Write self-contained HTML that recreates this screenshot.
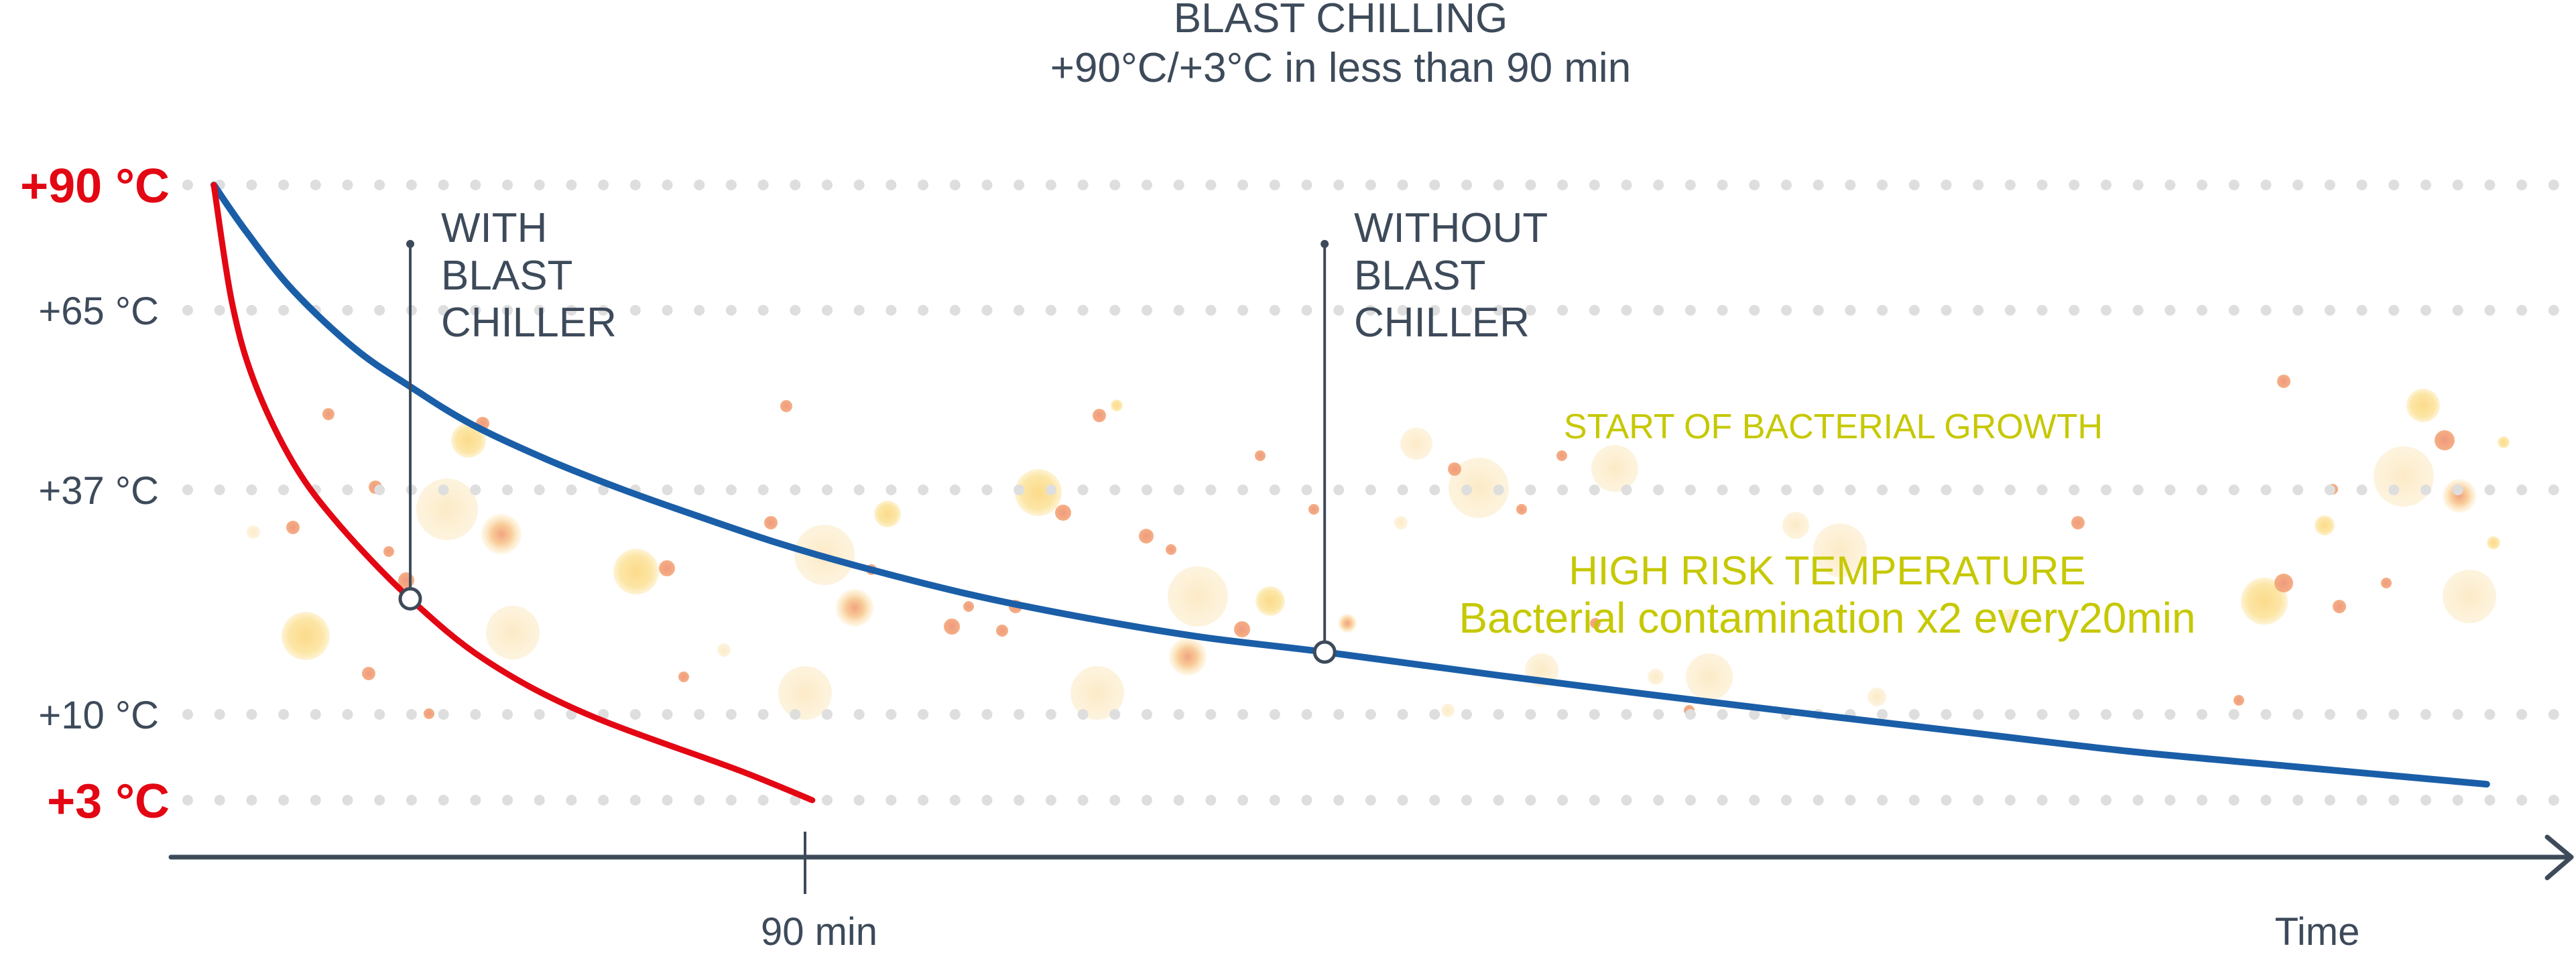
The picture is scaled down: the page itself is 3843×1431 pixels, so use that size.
<!DOCTYPE html>
<html><head><meta charset="utf-8">
<style>
html,body{margin:0;padding:0;background:#fff;}
svg{display:block;}
text{font-family:"Liberation Sans",sans-serif;}
</style></head>
<body>
<svg id="chart" width="3843" height="1431" viewBox="0 0 3843 1431" xmlns="http://www.w3.org/2000/svg">
<defs>
<radialGradient id="gY"><stop offset="0" stop-color="#fbd77e"/><stop offset="0.7" stop-color="#fce39c"/><stop offset="1" stop-color="#fde9b0" stop-opacity="0.6"/></radialGradient>
<radialGradient id="gP"><stop offset="0" stop-color="#fbe3b3"/><stop offset="1" stop-color="#fcecc9" stop-opacity="0.8"/></radialGradient>
<radialGradient id="gO"><stop offset="0" stop-color="#ee8f6e"/><stop offset="1" stop-color="#f3a678"/></radialGradient>
<radialGradient id="gG"><stop offset="0" stop-color="#f09a72"/><stop offset="0.5" stop-color="#f8c890"/><stop offset="1" stop-color="#fde5b0" stop-opacity="0.3"/></radialGradient>
</defs>
<g id="blobs"></g>
<g id="grid"></g>
<g id="ylabels"></g>
<text x="2000" y="48" text-anchor="middle" font-size="62" fill="#3d4a5a">BLAST CHILLING</text>
<text x="2000" y="122" text-anchor="middle" font-size="62" fill="#3d4a5a">+90°C/+3°C in less than 90 min</text>
<g>
<line x1="255" y1="1279" x2="3834" y2="1279" stroke="#3d4a5a" stroke-width="7" stroke-linecap="round"/>
<polyline points="3800,1249 3836,1279 3800,1310" fill="none" stroke="#3d4a5a" stroke-width="7" stroke-linecap="round" stroke-linejoin="round"/>
<line x1="1201" y1="1241" x2="1201" y2="1334" stroke="#3d4a5a" stroke-width="4"/>
<text x="1222" y="1410" text-anchor="middle" font-size="58" fill="#3d4a5a">90 min</text>
<text x="3457" y="1410" text-anchor="middle" font-size="58" fill="#3d4a5a">Time</text>
</g>
<g id="series"></g>
<g>
<text x="658" y="361" font-size="62" fill="#3d4a5a">WITH</text>
<text x="658" y="432" font-size="62" fill="#3d4a5a">BLAST</text>
<text x="658" y="502" font-size="62" fill="#3d4a5a">CHILLER</text>
</g>
<g>
<text x="2020" y="361" font-size="62" fill="#3d4a5a">WITHOUT</text>
<text x="2020" y="432" font-size="62" fill="#3d4a5a">BLAST</text>
<text x="2020" y="502" font-size="62" fill="#3d4a5a">CHILLER</text>
</g>
<text x="2735" y="654" text-anchor="middle" font-size="52" fill="#c6c800">START OF BACTERIAL GROWTH</text>
<text x="2726" y="872" text-anchor="middle" font-size="60" fill="#c6c800">HIGH RISK TEMPERATURE</text>
<text x="2726" y="944" text-anchor="middle" font-size="64" fill="#c6c800">Bacterial contamination x2 every20min</text>
</svg>
<script>
// ---- chart data ----
const yTicks = [90, 65, 37, 10, 3];
const yTickLabels = ['+90 °C', '+65 °C', '+37 °C', '+10 °C', '+3 °C'];
const redTimes = [0, 2.76, 6.22, 12.14, 19.18, 29.9, 41.4, 56.6, 80.1, 91.1];
const redTemps = [90, 66.6, 53.7, 41.1, 32.7, 23.9, 16.5, 10.1, 5.4, 3];
const blueTimes = [0, 5.1, 12.1, 21.5, 29.9, 39.1, 50.8, 62.4, 74.2, 85.9, 97.7, 115.2, 132.8, 150.3, 169.1, 195.5, 219.5, 243.5, 267.4, 291.4, 315.4, 346.0];
const blueTemps = [90, 80.4, 68.9, 59.0, 53.1, 47.3, 41.7, 37, 33.7, 30.6, 27.9, 24.4, 21.6, 19.3, 17.5, 14.7, 12.3, 10, 8.5, 7.0, 5.8, 4.3];
const redMarkerIndex = 5;
const blueMarkerIndex = 14;

// ---- scales ----
const tickY = [276, 463, 731, 1066, 1194];
function yScale(t){
  for (let i=0;i<yTicks.length-1;i++){
    const a=yTicks[i], b=yTicks[i+1];
    if (t<=a && t>=b || i===yTicks.length-2){
      return tickY[i] + (a-t)/(a-b)*(tickY[i+1]-tickY[i]);
    }
  }
  return tickY[0];
}
function xScale(m){ return 319 + m*9.8; }

const NS='http://www.w3.org/2000/svg';
function mk(tag, attrs, parent){
  const e=document.createElementNS(NS,tag);
  for(const k in attrs) e.setAttribute(k, attrs[k]);
  parent.appendChild(e); return e;
}

// blobs (decorative)
const blobs = [
[490,618,9,'gO'],[699,657,26,'gY'],[667,760,46,'gP'],[748,797,30,'gG'],[456,949,36,'gY'],[765,944,40,'gP'],
[949,853,34,'gY'],[995,848,12,'gO'],[1201,1034,40,'gP'],[1230,828,45,'gP'],[1324,767,20,'gY'],[1275,907,28,'gG'],
[1549,735,35,'gY'],[1586,765,12,'gO'],[1787,890,45,'gP'],[1772,980,28,'gG'],[1637,1034,40,'gP'],[1895,897,22,'gY'],
[1853,939,12,'gO'],[2113,662,24,'gP'],[2206,728,45,'gP'],[2409,699,35,'gP'],[2679,784,20,'gP'],[2745,821,40,'gP'],
[3378,897,35,'gY'],[3407,870,14,'gO'],[3615,605,25,'gY'],[3647,657,15,'gO'],[3586,711,45,'gP'],[3669,740,25,'gG'],
[3684,890,40,'gP'],[3468,784,15,'gY'],[3407,569,10,'gO'],[606,866,12,'gO'],[580,823,8,'gO'],[437,787,10,'gO'],
[378,794,10,'gP'],[560,727,10,'gO'],[720,632,10,'gO'],[1173,606,9,'gO'],[1150,780,10,'gO'],[1300,850,8,'gO'],
[1080,970,10,'gP'],[1495,941,9,'gO'],[1515,905,10,'gO'],[1710,800,11,'gO'],[1747,820,8,'gO'],[2010,930,14,'gG'],
[1880,680,8,'gO'],[1960,760,8,'gO'],[2090,780,10,'gP'],[2170,700,10,'gO'],[2270,760,8,'gO'],[2330,680,8,'gO'],
[2380,930,8,'gO'],[2470,1010,12,'gP'],[2520,1060,8,'gO'],[3340,1045,8,'gO'],[3490,905,10,'gO'],[3560,870,8,'gO'],
[3735,660,9,'gY'],[3720,810,10,'gY'],[3480,730,8,'gO'],[550,1005,10,'gO'],[640,1065,8,'gO'],[1020,1010,8,'gO'],
[1420,935,12,'gO'],[1445,905,8,'gO'],[1640,620,10,'gO'],[1666,605,9,'gY'],[2160,1060,10,'gP'],[2800,1040,14,'gP'],
[3000,920,12,'gP'],[3100,780,10,'gO'],[2550,1010,35,'gP'],[2300,1000,25,'gP']
];
const bg=document.getElementById('blobs');
blobs.forEach(b=>{
  const c=mk('circle',{cx:b[0],cy:b[1],r:b[2],fill:'url(#'+b[3]+')',opacity:b[3]==='gP'?0.75:0.9},bg);
  
  
});

// gridlines
const grid=document.getElementById('grid');
yTicks.forEach(t=>{
  const y=yScale(t);
  for(let x=280;x<3843;x+=47.7){
    const d=mk('circle',{cx:x.toFixed(1),cy:y,r:8,fill:'#dedede'},grid);
    
    
  }
});

// y labels
const yl=document.getElementById('ylabels');
yTicks.forEach((t,i)=>{
  const major = (i===0 || i===yTicks.length-1);
  const tx=mk('text',{x:major?253:237,y:yScale(t)+(major?26:21),'text-anchor':'end','font-size':major?72:58,'font-weight':major?'bold':'normal',fill:major?'#e30613':'#3d4a5a'},yl);
  tx.textContent=yTickLabels[i];
  
  
});

// smooth path (catmull-rom)
function pathFrom(ts, vs){
  const p=ts.map((t,i)=>[xScale(t), yScale(vs[i])]);
  let d='M'+p[0][0]+','+p[0][1];
  for(let i=0;i<p.length-1;i++){
    const p0=p[i-1]||p[i], p1=p[i], p2=p[i+1], p3=p[i+2]||p2;
    const c1=[p1[0]+(p2[0]-p0[0])/6, p1[1]+(p2[1]-p0[1])/6];
    const c2=[p2[0]-(p3[0]-p1[0])/6, p2[1]-(p3[1]-p1[1])/6];
    d+=' C'+c1[0].toFixed(1)+','+c1[1].toFixed(1)+' '+c2[0].toFixed(1)+','+c2[1].toFixed(1)+' '+p2[0].toFixed(1)+','+p2[1].toFixed(1);
  }
  return d;
}
const sg=document.getElementById('series');
const blue=mk('path',{d:pathFrom(blueTimes,blueTemps),fill:'none',stroke:'#1a5ea8','stroke-width':10,'stroke-linecap':'round'},sg);


const red=mk('path',{d:pathFrom(redTimes,redTemps),fill:'none',stroke:'#e30613','stroke-width':9,'stroke-linecap':'round'},sg);



// leader lines & markers
function marker(ts,vs,idx,name){
  const x=xScale(ts[idx]), y=yScale(vs[idx]);
  const l=mk('line',{x1:x,y1:364,x2:x,y2:y,stroke:'#3d4a5a','stroke-width':4},sg);
  
  
  const top=mk('circle',{cx:x,cy:364,r:6,fill:'#3d4a5a'},sg);
  
  
  const m=mk('circle',{cx:x,cy:y,r:15,fill:'#fff',stroke:'#3d4a5a','stroke-width':5},sg);
  
  
}
marker(redTimes,redTemps,redMarkerIndex,'with-blast-chiller');
marker(blueTimes,blueTemps,blueMarkerIndex,'without-blast-chiller');
</script>
</body></html>
